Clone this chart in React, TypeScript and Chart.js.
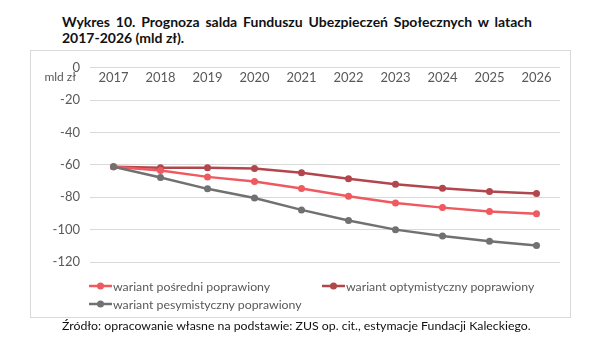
import React, { useEffect, useRef } from "react";
import { Chart, registerables } from "chart.js";

Chart.register(...registerables);

const years = ["2017", "2018", "2019", "2020", "2021", "2022", "2023", "2024", "2025", "2026"];
const posredni = [-61.2, -63.5, -67.4, -70.2, -74.6, -79.4, -83.6, -86.4, -88.8, -90.2];
const optymistyczny = [-61.2, -61.8, -61.8, -62.3, -64.8, -68.6, -72.0, -74.4, -76.4, -77.6];
const pesymistyczny = [-61.2, -67.8, -74.8, -80.4, -87.8, -94.4, -100.0, -104.0, -107.2, -109.8];
const yTicks = [0, -20, -40, -60, -80, -100, -120];

const seriesNames = [
  "wariant pośredni poprawiony",
  "wariant optymistyczny poprawiony",
  "wariant pesymistyczny poprawiony",
];
const titleLine1 = "Wykres 10. Prognoza salda Funduszu Ubezpieczeń Społecznych w latach";
const titleLine2 = "2017-2026 (mld zł).";
const unitLabel = "mld zł";
const sourceText = "Źródło: opracowanie własne na podstawie: ZUS op. cit., estymacje Fundacji Kaleckiego.";

const C_POS = "#ee5a60";
const C_OPT = "#b2464d";
const C_PES = "#717171";
const FONT = "Lato, 'Open Sans', sans-serif";

const unitPlugin = {
  id: "unitLabel",
  afterDraw(chart: any) {
    const ctx = chart.ctx;
    ctx.save();
    ctx.font = "12px Lato";
    ctx.fillStyle = "#595959";
    ctx.textAlign = "right";
    ctx.textBaseline = "middle";
    ctx.fillText(unitLabel, 46, 27);
    ctx.restore();
  },
};

function Marker({ color }: { color: string }) {
  return (
    <svg width="23" height="10" style={{ display: "block" }}>
      <line x1="0" y1="5" x2="23" y2="5" stroke={color} strokeWidth="2.5" />
      <circle cx="11.5" cy="5" r="3.5" fill={color} />
    </svg>
  );
}

function LegendItem({ color, text, left, top }: { color: string; text: string; left: number; top: number }) {
  return (
    <div
      style={{
        position: "absolute",
        left,
        top,
        height: 18,
        display: "flex",
        alignItems: "center",
        fontFamily: FONT,
        fontSize: 12.3,
        color: "#595959",
        whiteSpace: "nowrap",
      }}
    >
      <Marker color={color} />
      <span style={{ marginLeft: 1 }}>{text}</span>
    </div>
  );
}

export default function App() {
  const ref = useRef<HTMLCanvasElement | null>(null);

  useEffect(() => {
    if (!ref.current) return;
    const ds = (label: string, data: number[], color: string) => ({
      label,
      data,
      borderColor: color,
      backgroundColor: color,
      pointBackgroundColor: color,
      pointBorderColor: color,
      borderWidth: 2.5,
      pointRadius: 3.5,
      pointBorderWidth: 0,
      tension: 0,
      fill: false,
    });
    const chart = new Chart(ref.current, {
      type: "line",
      data: {
        labels: years,
        datasets: [
          ds(seriesNames[2], pesymistyczny, C_PES),
          ds(seriesNames[0], posredni, C_POS),
          ds(seriesNames[1], optymistyczny, C_OPT),
        ],
      },
      options: {
        animation: false,
        responsive: false,
        maintainAspectRatio: false,
        layout: { padding: { left: 0, top: 10, right: 10, bottom: 18 } },
        plugins: {
          legend: { display: false },
          tooltip: { enabled: false },
        },
        scales: {
          x: {
            type: "category",
            position: { y: 0 } as any,
            offset: true,
            grid: { display: false, drawTicks: false },
            border: { display: false },
            ticks: {
              color: "#595959",
              font: { family: "Lato", size: 13 },
              padding: 2,
              maxRotation: 0,
              autoSkip: false,
            },
          },
          y: {
            min: -120,
            max: 0,
            afterBuildTicks(scale: any) {
              scale.ticks = yTicks.map((v) => ({ value: v }));
            },
            afterFit(scale: any) {
              scale.width = 60;
            },
            grid: { color: "#d9d9d9", lineWidth: 1, drawTicks: false },
            border: { display: false },
            ticks: {
              color: "#595959",
              font: { family: "Lato", size: 13 },
              padding: 10,
            },
          },
        },
      },
      plugins: [unitPlugin],
    });
    return () => chart.destroy();
  }, []);

  return (
    <div style={{ position: "fixed", left: 0, top: 0, width: 600, height: 349, background: "#fff", overflow: "hidden" }}>
      <div
        style={{
          position: "absolute",
          left: 62,
          top: 14,
          width: 470,
          fontFamily: FONT,
          fontWeight: 700,
          fontSize: 14,
          lineHeight: "16px",
          color: "#111",
        }}
      >
        <div style={{ textAlign: "justify", textAlignLast: "justify" as any }}>{titleLine1}</div>
        <div>{titleLine2}</div>
      </div>
      <div
        style={{
          position: "absolute",
          left: 30,
          top: 50,
          width: 541,
          height: 268,
          border: "1px solid #d9d9d9",
          boxSizing: "border-box",
        }}
      />
      <canvas
        ref={ref}
        width={540}
        height={230}
        style={{ position: "absolute", left: 30, top: 50, width: 540, height: 230 }}
      />
      <LegendItem color={C_POS} text={seriesNames[0]} left={89} top={277} />
      <LegendItem color={C_OPT} text={seriesNames[1]} left={322} top={277} />
      <LegendItem color={C_PES} text={seriesNames[2]} left={89} top={295} />
      <div
        style={{
          position: "absolute",
          left: 62,
          top: 318,
          fontFamily: FONT,
          fontSize: 12.3,
          color: "#111",
          whiteSpace: "nowrap",
        }}
      >
        {sourceText}
      </div>
    </div>
  );
}
